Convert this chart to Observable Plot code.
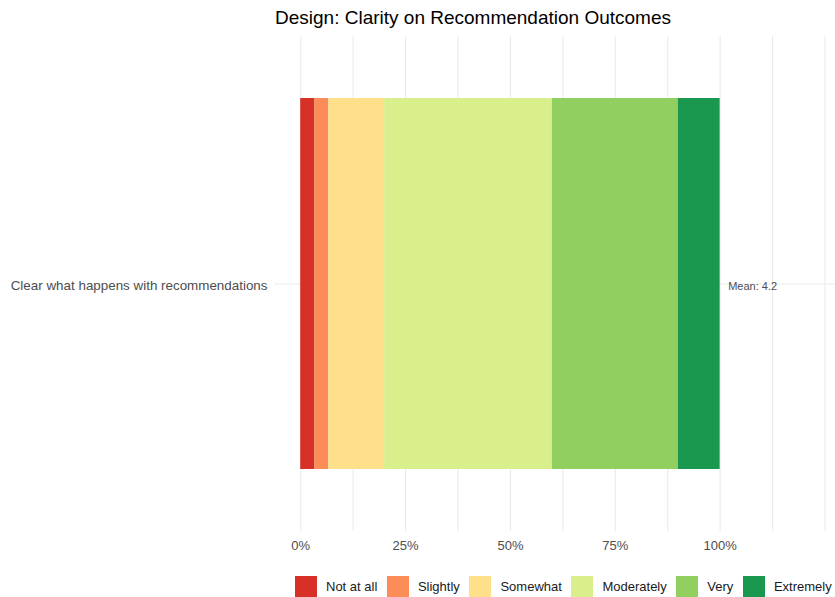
<!DOCTYPE html>
<html><head><meta charset="utf-8">
<script src="https://cdn.jsdelivr.net/npm/d3@7"></script>
<script src="https://cdn.jsdelivr.net/npm/@observablehq/plot@0.6"></script>
<style>
body{margin:0;background:#fff;font-family:"Liberation Sans",Arial,sans-serif;}
#title{height:36px;line-height:36px;font-size:19px;padding-left:275px;color:#000;white-space:nowrap}
#legend{display:flex;align-items:center;height:21px;margin-top:10px;padding-left:295px;font-size:13px;white-space:nowrap;color:#1a1a1a}
.sw{width:22px;height:21px;margin-right:9px;flex:none}
.lab{margin-right:9.6px}
</style></head><body>
<div id="title">Design: Clarity on Recommendation Outcomes</div>
<div id="chart"></div>
<div id="legend"></div>
<script>
const categories = ["Clear what happens with recommendations"];
const levels = ["Not at all", "Slightly", "Somewhat", "Moderately", "Very", "Extremely"];
const percents = [3.4, 3.3, 13.3, 40.0, 30.0, 10.0];
const colors = ["#d73027", "#fc8d59", "#fee08b", "#d9ef8b", "#91cf60", "#1a9850"];
const means = [4.2];
const tickValues = [0, 0.25, 0.5, 0.75, 1];
const gridValues = [0, 0.125, 0.25, 0.375, 0.5, 0.625, 0.75, 0.875, 1, 1.125, 1.25];

const data = levels.map((l, i) => ({category: categories[0], level: l, value: percents[i] / 100}));
const total = d3.sum(percents) / 100;
const meanData = means.map((m, i) => ({category: categories[i], x: total, label: "Mean: " + m.toFixed(1)}));

const chart = Plot.plot({
  width: 835, height: 530,
  marginTop: 0, marginBottom: 35, marginLeft: 274, marginRight: 0,
  style: {fontFamily: "'Liberation Sans', Arial, sans-serif", fontSize: "13px", color: "#4d4d4d", background: "#fff"},
  x: {domain: [-0.0625, 1.275]},
  y: {domain: categories, paddingInner: 0.1, paddingOuter: 0.15},
  color: {domain: levels, range: colors},
  marks: [
    Plot.ruleX(gridValues, {stroke: "#ebebeb", strokeWidth: 1.1}),
    Plot.gridY({stroke: "#ebebeb", strokeOpacity: 1, strokeWidth: 1.1}),
    Plot.barX(data, Plot.stackX({x: "value", y: "category", fill: "level"})),
    Plot.text(meanData, {x: "x", y: "category", text: "label", dx: 8, dy: 2, textAnchor: "start", fontSize: 11, fill: "#4d4d4d"}),
    Plot.axisX({ticks: tickValues, tickFormat: d => Math.round(d * 100) + "%", tickSize: 0, tickPadding: 9, fontSize: 13, label: null}),
    Plot.axisY({tickSize: 0, tickPadding: 7, dy: 2, fontSize: 13.4, label: null})
  ]
});
document.getElementById("chart").appendChild(chart);

const legend = document.getElementById("legend");
levels.forEach((l, i) => {
  const sw = document.createElement("div");
  sw.className = "sw";
  sw.style.background = colors[i];
  const lab = document.createElement("span");
  lab.className = "lab";
  lab.textContent = l;
  legend.appendChild(sw);
  legend.appendChild(lab);
});
</script>
</body></html>
